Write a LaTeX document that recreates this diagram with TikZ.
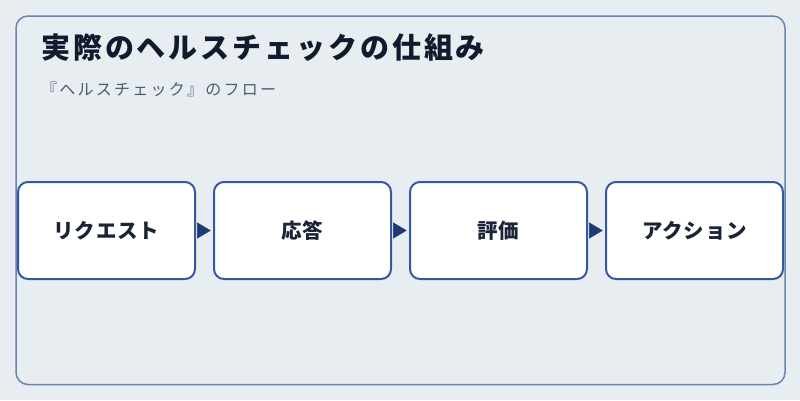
\documentclass[tikz,border=0pt]{standalone}
\usepackage{fontspec}
\usetikzlibrary{arrows.meta}
\newfontfamily\jpTitle{Noto Sans CJK JP}[LetterSpace=10]
\newfontfamily\jpSub{Noto Sans CJK JP}[LetterSpace=14]
\newfontfamily\jpBox{Noto Sans CJK JP}[LetterSpace=4]
\definecolor{bgc}{HTML}{E8EDF2}
\definecolor{framec}{HTML}{6B84B3}
\definecolor{boxc}{HTML}{3557A3}
\definecolor{arrowc}{HTML}{1F3A73}
\definecolor{titlec}{HTML}{111B2E}
\definecolor{subc}{HTML}{4E5B76}
\definecolor{boxtextc}{HTML}{1B2336}
\tikzset{
  stepbox/.style={draw=boxc, fill=white, line width=2pt, rounded corners=10pt,
    minimum width=177pt, minimum height=97pt, inner sep=0pt, outer sep=0pt,
    font=\jpBox\bfseries\fontsize{20.5pt}{24pt}\selectfont, text=boxtextc},
  flowarrow/.style={draw=arrowc, line width=0.4pt,
    -{Triangle[length=13.5pt,width=16pt]}, shorten <=2pt, shorten >=3.3pt},
  titletext/.style={anchor=west, inner sep=0pt, text=titlec,
    font=\jpTitle\bfseries\fontsize{29pt}{32pt}\selectfont},
  subtext/.style={anchor=west, inner sep=0pt, text=subc,
    font=\jpSub\fontsize{16pt}{20pt}\selectfont}
}
\begin{document}
\begin{tikzpicture}[x=1pt,y=-1pt]
\fill[bgc] (0,0) rectangle (800,400);
\useasboundingbox (0,0) rectangle (800,400);
\draw[framec, line width=1.5pt, rounded corners=12pt] (16,16) rectangle (785,384.5);
\node[titletext] (title) at (41,47.5) {実際のヘルスチェックの仕組み};
\node[subtext] (sub) at (41,89) {『ヘルスチェック』のフロー};
\node[stepbox] (b1) at (106.5,230.5) {リクエスト};
\node[stepbox] (b2) at (302.5,230.5) {応答};
\node[stepbox] (b3) at (498.5,230.5) {評価};
\node[stepbox] (b4) at (694.5,230.5) {アクション};
\draw[flowarrow] (b1) -- (b2);
\draw[flowarrow] (b2) -- (b3);
\draw[flowarrow] (b3) -- (b4);
\end{tikzpicture}
\end{document}
